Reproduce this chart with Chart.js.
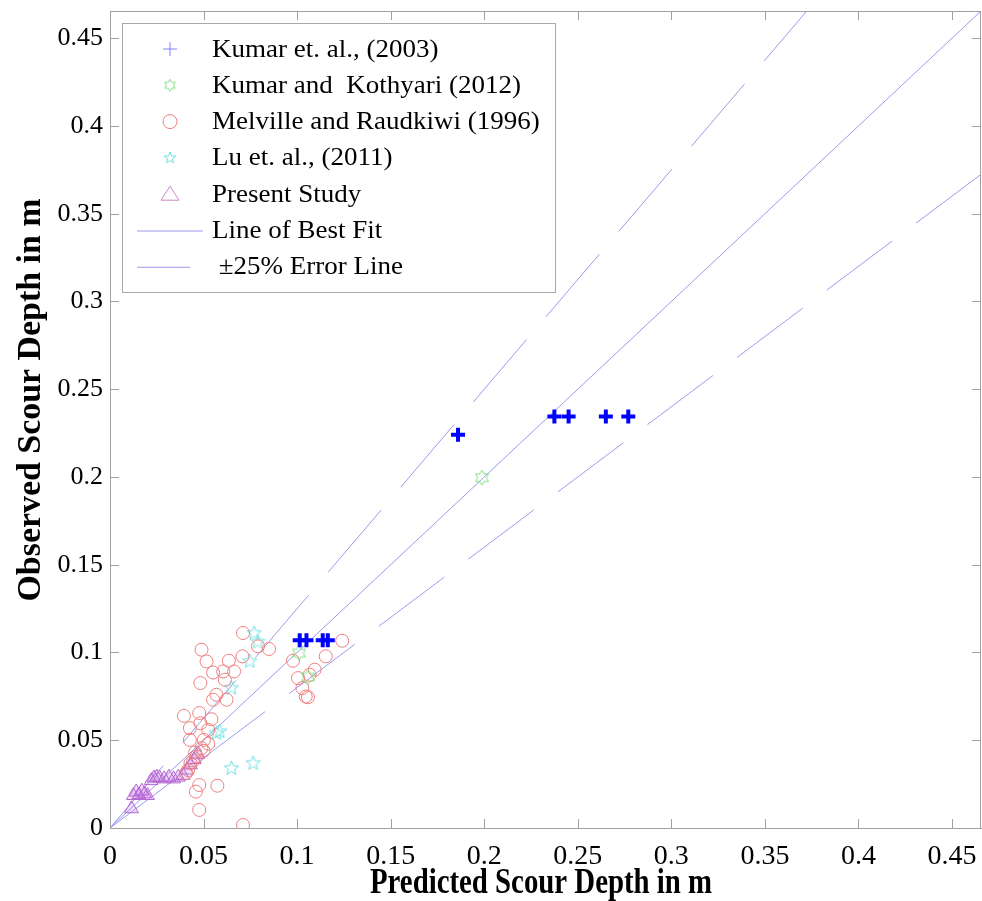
<!DOCTYPE html>
<html>
<head>
<meta charset="utf-8">
<script src="https://cdn.jsdelivr.net/npm/chart.js@4.4.1/dist/chart.umd.min.js"></script>
<style>
html,body{margin:0;padding:0;background:#fff;}
canvas{display:block;}
</style>
</head>
<body>
<canvas id="c" width="982" height="901" style="width:982px;height:901px"></canvas>
<script>
// ---------------- data ----------------
const xTickValues = [0,0.05,0.1,0.15,0.2,0.25,0.3,0.35,0.4,0.45];
const xTickLabels = ['0','0.05','0.1','0.15','0.2','0.25','0.3','0.35','0.4','0.45'];
const yTickValues = [0,0.05,0.1,0.15,0.2,0.25,0.3,0.35,0.4,0.45];
const yTickLabels = ['0','0.05','0.1','0.15','0.2','0.25','0.3','0.35','0.4','0.45'];
const axisMax = 0.4655;

const kumar2003X = [0.1014,0.1050,0.1137,0.1164,0.1860,0.2375,0.2451,0.2650,0.2770];
const kumar2003Y = [0.1070,0.1070,0.1070,0.1070,0.2240,0.2345,0.2345,0.2345,0.2345];

const kumarKothyariX = [0.1988,0.1010,0.1058];
const kumarKothyariY = [0.1996,0.0997,0.0860];

const melvilleX = [0.0711,0.0489,0.0791,0.0850,0.0516,0.0635,0.0708,0.0551,0.0605,0.0663,0.0614,0.0483,0.0569,0.0551,0.0623,0.0395,0.0477,0.0542,0.0427,0.0483,0.0525,0.0427,0.0502,0.0489,0.0462,0.0406,0.0477,0.0459,0.0574,0.0477,0.0711,0.0430,0.1241,0.1153,0.0978,0.1094,0.1067,0.1005,0.1028,0.1046,0.1058,0.0418,0.0445,0.0500,0.0525,0.0455];
const melvilleY = [0.1111,0.1016,0.1035,0.1020,0.0949,0.0953,0.0978,0.0886,0.0892,0.0892,0.0845,0.0826,0.0759,0.0731,0.0731,0.0639,0.0655,0.0620,0.0569,0.0597,0.0559,0.0502,0.0502,0.0455,0.0407,0.0312,0.0245,0.0207,0.0241,0.0103,0.0017,0.0369,0.1067,0.0978,0.0953,0.0902,0.0873,0.0854,0.0797,0.0749,0.0745,0.0330,0.0385,0.0440,0.0480,0.0430];

const luX = [0.0649,0.0765,0.0587,0.0649,0.0747,0.0790,0.0770,0.0569];
const luY = [0.0340,0.0369,0.0550,0.0797,0.0950,0.1060,0.1110,0.0540];

const presentX = [0.0115,0.0125,0.0140,0.0155,0.0170,0.0185,0.0200,0.0220,0.0235,0.0250,0.0265,0.0290,0.0315,0.0340,0.0365,0.0390,0.0410,0.0430,0.0450,0.0470];
const presentY = [0.0110,0.0185,0.0205,0.0190,0.0210,0.0195,0.0185,0.0270,0.0285,0.0290,0.0285,0.0280,0.0290,0.0280,0.0290,0.0300,0.0330,0.0360,0.0390,0.0420];

const bestFitX = [0, axisMax];
const bestFitY = [0, axisMax];
const upperErrX = [0, axisMax/1.25];
const upperErrY = [0, axisMax];
const lowerErrX = [0, axisMax];
const lowerErrY = [0, axisMax*0.8];

const seriesLabels = ['Kumar et. al., (2003)','Kumar and  Kothyari (2012)','Melville and Raudkiwi (1996)','Lu et. al., (2011)','Present Study','Line of Best Fit',' \u00b125% Error Line'];
const xTitle = 'Predicted Scour Depth in m';
const yTitle = 'Observed Scour Depth in m';

// ---------------- helpers ----------------
const pts = (xs, ys) => xs.map((x,i)=>({x:x, y:ys[i]}));

function starCanvas(n, rOut, ratio, color, lw){
  const s = Math.ceil(rOut*2+4);
  const c = document.createElement('canvas');
  c.width = s; c.height = s;
  const g = c.getContext('2d');
  g.strokeStyle = color; g.lineWidth = lw;
  g.beginPath();
  for(let i=0;i<n*2;i++){
    const r = i%2===0 ? rOut : rOut*ratio;
    const a = -Math.PI/2 + i*Math.PI/n;
    const px = s/2 + r*Math.cos(a), py = s/2 + r*Math.sin(a);
    if(i===0) g.moveTo(px,py); else g.lineTo(px,py);
  }
  g.closePath(); g.stroke();
  return c;
}
const COL = {
  kumar:'#0000ff', kumarLeg:'#8080ff', kk:'#7fdf7f', mel:'#ef7f7f', lu:'#6fe0e0',
  pres:'#b466d2', presLeg:'#cc88cc', line:'#9a9aee', axis:'#a0a0a0'
};
const hexImg = starCanvas(6, 7.5, 0.577, COL.kk, 1);
const pentImg = starCanvas(5, 7.5, 0.42, COL.lu, 1);
const hexLeg = starCanvas(6, 6, 0.577, COL.kk, 1);
const pentLeg = starCanvas(5, 6, 0.42, COL.lu, 1);
const zeroPad = () => ({left:0, top:0, right:0, bottom:0});

// ---------------- decoration plugin ----------------
const decor = {
  id:'decor',
  afterDraw(chart){
    const ctx = chart.ctx, a = chart.chartArea;
    const xs = chart.scales.x, ys = chart.scales.y;
    ctx.save();
    // box + inward ticks
    ctx.strokeStyle = COL.axis; ctx.lineWidth = 1;
    ctx.beginPath();
    ctx.moveTo(a.left, a.top+0.5); ctx.lineTo(a.right, a.top+0.5);
    ctx.moveTo(a.right-0.5, a.top); ctx.lineTo(a.right-0.5, a.bottom);
    xTickValues.forEach(v=>{
      const px = Math.round(xs.getPixelForValue(v))+0.5;
      ctx.moveTo(px, a.bottom); ctx.lineTo(px, a.bottom-9);
      ctx.moveTo(px, a.top); ctx.lineTo(px, a.top+9);
    });
    yTickValues.forEach(v=>{
      const py = Math.round(ys.getPixelForValue(v))+0.5;
      ctx.moveTo(a.left, py); ctx.lineTo(a.left+9, py);
      ctx.moveTo(a.right, py); ctx.lineTo(a.right-9, py);
    });
    ctx.stroke();

    // axis titles (condensed bold serif)
    ctx.fillStyle = '#000';
    ctx.textAlign = 'center'; ctx.textBaseline = 'alphabetic';
    ctx.font = 'bold 36px "Liberation Serif"';
    let w = ctx.measureText(xTitle).width;
    ctx.save();
    ctx.translate(541, 893);
    ctx.scale(342/w, 1);
    ctx.fillText(xTitle, 0, 0);
    ctx.restore();

    ctx.font = 'bold 33px "Liberation Serif"';
    w = ctx.measureText(yTitle).width;
    ctx.save();
    ctx.translate(40, 400);
    ctx.rotate(-Math.PI/2);
    ctx.scale(403/w, 1);
    ctx.fillText(yTitle, 0, 0);
    ctx.restore();

    // legend
    const L = {x:122.5, y:23.5, w:433, h:269};
    ctx.fillStyle = '#fff';
    ctx.fillRect(L.x, L.y, L.w, L.h);
    ctx.strokeStyle = '#a8a8a8';
    ctx.strokeRect(L.x, L.y, L.w, L.h);
    const rowY = i => 49 + i*36.3;
    const mx = 170;
    ctx.font = '25px "Liberation Serif"';
    ctx.fillStyle = '#000';
    ctx.textAlign = 'left'; ctx.textBaseline = 'middle';
    seriesLabels.forEach((t,i)=>{
      ctx.save(); ctx.translate(212, rowY(i)+1); ctx.scale(1.08,1);
      ctx.fillText(t, 0, 0); ctx.restore();
    });
    // markers
    ctx.lineWidth = 1;
    ctx.strokeStyle = COL.kumarLeg;
    ctx.beginPath();
    ctx.moveTo(mx-7, rowY(0)); ctx.lineTo(mx+7, rowY(0));
    ctx.moveTo(mx, rowY(0)-7); ctx.lineTo(mx, rowY(0)+7);
    ctx.stroke();
    ctx.drawImage(hexLeg, mx-hexLeg.width/2, rowY(1)-hexLeg.height/2);
    ctx.strokeStyle = COL.mel;
    ctx.beginPath(); ctx.arc(mx, rowY(2), 7, 0, Math.PI*2); ctx.stroke();
    ctx.drawImage(pentLeg, mx-pentLeg.width/2, rowY(3)-pentLeg.height/2);
    ctx.strokeStyle = COL.presLeg;
    ctx.beginPath();
    ctx.moveTo(mx, rowY(4)-8); ctx.lineTo(mx+9, rowY(4)+6); ctx.lineTo(mx-9, rowY(4)+6); ctx.closePath();
    ctx.stroke();
    ctx.strokeStyle = COL.line;
    ctx.beginPath();
    ctx.moveTo(137, rowY(5)+0.5); ctx.lineTo(203, rowY(5)+0.5);
    ctx.moveTo(137, rowY(6)+0.5); ctx.lineTo(190, rowY(6)+0.5);
    ctx.stroke();
    ctx.restore();
  }
};

// ---------------- chart ----------------
const lineDs = (label, xs, ys, dash) => ({
  type:'line', label, data: pts(xs, ys), borderColor: COL.line, borderWidth:1,
  borderDash: dash, pointRadius:0, fill:false, tension:0, order:10
});

new Chart(document.getElementById('c'), {
  type:'scatter',
  data:{
    datasets:[
      {label:seriesLabels[0], data:pts(kumar2003X,kumar2003Y), pointStyle:'cross', pointRadius:7, pointBorderWidth:4, borderColor:COL.kumar, backgroundColor:COL.kumar, order:1},
      {label:seriesLabels[1], data:pts(kumarKothyariX,kumarKothyariY), pointStyle:hexImg, pointRadius:8, borderColor:COL.kk, order:2},
      {label:seriesLabels[2], data:pts(melvilleX,melvilleY), pointStyle:'circle', pointRadius:6.5, pointBorderWidth:1, borderColor:COL.mel, backgroundColor:'rgba(0,0,0,0)', order:3},
      {label:seriesLabels[3], data:pts(luX,luY), pointStyle:pentImg, pointRadius:8, borderColor:COL.lu, order:4},
      {label:seriesLabels[4], data:pts(presentX,presentY), pointStyle:'triangle', pointRadius:8, pointBorderWidth:1, borderColor:COL.pres, backgroundColor:'rgba(190,110,225,0.22)', order:5},
      lineDs(seriesLabels[5], bestFitX, bestFitY, []),
      lineDs(seriesLabels[6], upperErrX, upperErrY, [82,30]),
      lineDs(seriesLabels[6], lowerErrX, lowerErrY, [82,30])
    ]
  },
  options:{
    responsive:false, animation:false, devicePixelRatio:1,
    layout:{autoPadding:false, padding:{top:11, right:1, left:0, bottom:0}},
    plugins:{legend:{display:false}, tooltip:{enabled:false}},
    scales:{
      x:{
        type:'linear', min:0, max:axisMax,
        afterBuildTicks: s => { s.ticks = xTickValues.map(v=>({value:v})); },
        afterFit: s => { s.height = 73; s.paddingLeft = 0; s.paddingRight = 0; s.getPadding = zeroPad; },
        grid:{drawOnChartArea:false, drawTicks:false},
        border:{display:true, color:COL.axis},
        ticks:{padding:12, color:'#000', font:{family:'"Liberation Serif"', size:28},
          callback:(v,i)=> xTickLabels[i]}
      },
      y:{
        type:'linear', min:0, max:axisMax,
        afterBuildTicks: s => { s.ticks = yTickValues.map(v=>({value:v})); },
        afterFit: s => { s.width = 110; s.paddingTop = 0; s.paddingBottom = 0; s.getPadding = zeroPad; },
        grid:{drawOnChartArea:false, drawTicks:false},
        border:{display:true, color:COL.axis},
        ticks:{padding:7, color:'#000', font:{family:'"Liberation Serif"', size:26},
          callback:(v,i)=> yTickLabels[i]}
      }
    }
  },
  plugins:[decor]
});
</script>
</body>
</html>
